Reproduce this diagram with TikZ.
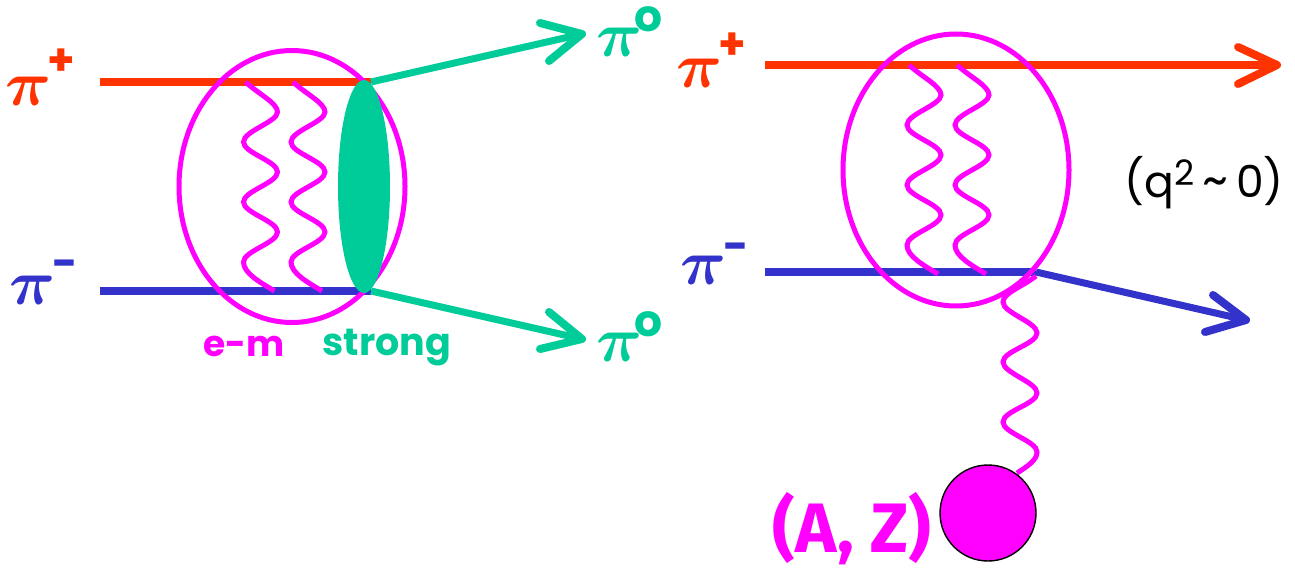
\documentclass[tikz,border=0pt]{standalone}
\usepackage{amsmath,amsbsy,graphicx}
\usepackage{fontspec}
\setmainfont{Poppins}
\newfontfamily\capsfont{Fira Sans}
\usetikzlibrary{shapes.geometric}
\definecolor{pired}{HTML}{FF3300}
\definecolor{piblue}{HTML}{3333CC}
\definecolor{pimag}{HTML}{FF00FF}
\definecolor{pigreen}{HTML}{00CC99}
\newcommand{\bigpi}{\scalebox{6.4}{$\boldsymbol{\pi}$}}
\newcommand{\wigglepath}[3]{%
  \draw[wiggly,shift={(#1,#2)}] (0,0) .. controls (13,12) and (32,21) .. (32,30)
   .. controls (32,40) and (-2,49) .. (-2,60)
   .. controls (-2,71) and (32,79) .. (32,90)
   .. controls (32,101) and (-2,109) .. (-2,120)
   .. controls (-2,131) and (32,139) .. (32,150)
   .. controls (32,161) and (-2,169) .. (-2,180)
   .. controls (-2,191) and (14,200) .. (#3,209);}
\tikzset{
  wiggly/.style={draw=pimag,line width=5pt},
  beam/.style={line width=8pt},
  shaft/.style={line width=7pt},
  barb/.style={line width=8pt,line cap=round,line join=round},
  loopring/.style={ellipse,draw=pimag,line width=5pt,minimum width=226pt,minimum height=272pt,inner sep=0pt},
  lens/.style={ellipse,fill=pigreen,minimum width=52pt,minimum height=213pt,inner sep=0pt},
  piname/.style={inner sep=0pt,anchor=center},
  small/.style={inner sep=0pt,font=\fontsize{44}{44}\selectfont\bfseries}
}
\begin{document}
\begin{tikzpicture}[x=1pt,y=-1pt]
\useasboundingbox (0,0) rectangle (1295,570);
% left diagram
\coordinate (ra) at (100,82);
\coordinate (rb) at (371,82);
\coordinate (ba) at (100,291);
\coordinate (bb) at (371,291);
\coordinate (gt) at (582,34);
\coordinate (gb) at (582,339);
\draw[beam,pired] (ra) -- (rb);
\draw[beam,piblue] (ba) -- (bb);
\node[loopring] (lring) at (292,186.5) {};
\wigglepath{245.5}{82}{29}
\wigglepath{293}{82}{29}
\node[lens] (blob) at (364,186.5) {};
\draw[shaft,pigreen] (rb) -- (gt);
\draw[shaft,pigreen] (bb) -- (gb);
\draw[barb,pigreen] (540,23) -- (gt) -- (549,61);
\draw[barb,pigreen] (540,349) -- (gb) -- (549,312);
% right diagram
\coordinate (rc) at (765,65);
\coordinate (rd) at (1277,65);
\coordinate (bc) at (765,272);
\coordinate (bd) at (1036,272);
\coordinate (be) at (1246,320);
\draw[beam,pired] (rc) -- (rd);
\draw[beam,piblue] (bc) -- (bd);
\draw[shaft,piblue] (bd) -- (be);
\draw[barb,pired] (1238,47) -- (rd) -- (1238,84);
\draw[barb,piblue] (1213,295) -- (be) -- (1205,332);
\node[loopring] (rring) at (956,170) {};
\wigglepath{909}{65}{29}
\wigglepath{957}{65}{29}
\node[circle,fill=pimag,draw=black,line width=1.4pt,minimum size=96pt,inner sep=0pt] (nucleus) at (988,513) {};
\coordinate (wa) at (1036,276);
\draw[wiggly] (wa) .. controls (1022,287) and (1003,293) .. (1003,302)
  .. controls (1003,313) and (1037,322) .. (1037,333)
  .. controls (1037,344) and (1003,351) .. (1003,362)
  .. controls (1003,373) and (1037,382) .. (1037,393)
  .. controls (1037,404) and (1003,411) .. (1003,422)
  .. controls (1003,433) and (1037,441) .. (1037,452)
  .. controls (1037,460) and (1028,466) .. (1017,473);
% labels
\node[piname,pired] (p1) at (29,91) {\bigpi};
\node[small,pired] (p1s) at (61,62) {+};
\node[piname,piblue] (p2) at (33,290) {\bigpi};
\node[small,piblue] (p2s) at (64,269) {\textminus};
\node[piname,pigreen] (p3) at (620,42) {\bigpi};
\node[small,pigreen] (p3s) at (649,19) {o};
\node[piname,pigreen] (p4) at (620,347) {\bigpi};
\node[small,pigreen] (p4s) at (649,324) {o};
\node[piname,pired] (p5) at (700,73) {\bigpi};
\node[small,pired] (p5s) at (732,46) {+};
\node[piname,piblue] (p6) at (704,270) {\bigpi};
\node[small,piblue] (p6s) at (735,252) {\textminus};
\node[inner sep=0pt,pimag,font=\fontsize{36}{36}\selectfont\bfseries] (em) at (244,346) {e-m};
\node[inner sep=0pt,pigreen,font=\fontsize{38}{38}\selectfont\bfseries] (st) at (387,348) {strong};
\node[inner sep=0pt,black,font=\fontsize{44}{44}\selectfont] (q) at (1204,183) {(q\raisebox{12pt}{\fontsize{35}{35}\selectfont 2}\kern8pt{\fontsize{50}{50}\selectfont\textasciitilde}\kern8pt 0)};
\node[inner sep=0pt,pimag,anchor=base,font=\fontsize{70}{70}\selectfont\capsfont\bfseries] (az) at (852,552) {(A, Z)};
\end{tikzpicture}
\end{document}
